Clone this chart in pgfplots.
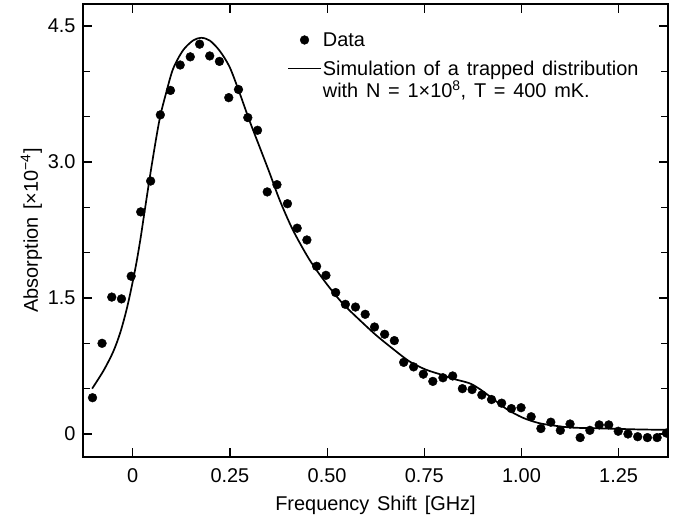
\documentclass[border=0pt]{standalone}
\usepackage{pgfplots}
\pgfplotsset{compat=1.18}
\usepackage{fontspec}
\setmainfont{Liberation Sans}[WordSpace=1.4]
\renewcommand{\arraystretch}{0.78}
\pgfplotsset{
  dataleg/.style={legend image code/.code={\draw[##1] plot coordinates {(16.5bp,0bp)};}},
  lineleg/.style={legend image code/.code={\draw[##1] (0bp,0bp) -- (33bp,0bp);}},
}
\begin{document}
\begin{tikzpicture}[font=\fontsize{20}{24}\selectfont]
\begin{axis}[
  scale only axis, width=585bp, height=453bp,
  xmin=-0.128, xmax=1.377, ymin=-0.254, ymax=4.743,
  xtick={0,0.25,0.5,0.75,1,1.25},
  xticklabels={0,0.25,0.50,0.75,1.00,1.25},
  ytick={0,1.5,3,4.5},
  yticklabels={0,1.5,3.0,4.5},
  minor y tick num=2,
  tick align=inside,
  major tick length=9bp, minor tick length=7bp,
  axis line style={line width=1.6bp},
  every tick/.style={line width=1.2bp, black},
  /pgf/number format/assume math mode=true,
  xticklabel style={yshift=-8bp},
  yticklabel style={xshift=-4bp},
  xlabel={Frequency Shift [GHz]},
  xlabel style={yshift=-7bp},
  ylabel={Absorption [×10\textsuperscript{−4}]},
  ylabel shift=-1bp,
  clip marker paths=true,
  legend cell align=left,
  legend style={draw=none, fill=none, at={(axis description cs:0.3487,0.94)}, anchor=north west,
    inner sep=0pt, column sep=0pt, row sep=11bp, nodes={inner sep=1bp}},
]
\addplot[only marks, mark=*, mark size=4.4bp, black, dataleg]
 coordinates {
(-0.1035,0.40) (-0.079,1.00) (-0.054,1.51) (-0.029,1.49) (-0.004,1.74) (0.0205,2.45) (0.046,2.79) (0.071,3.52) (0.097,3.79) (0.122,4.07) (0.148,4.16) (0.172,4.30) (0.198,4.17) (0.223,4.11) (0.247,3.71) (0.272,3.80) (0.296,3.49) (0.321,3.35) (0.346,2.67) (0.371,2.75) (0.398,2.54) (0.423,2.27) (0.448,2.14) (0.473,1.85) (0.497,1.75) (0.522,1.56) (0.547,1.43) (0.573,1.40) (0.598,1.32) (0.622,1.18) (0.648,1.10) (0.673,1.03) (0.697,0.79) (0.7225,0.74) (0.7475,0.66) (0.772,0.58) (0.798,0.62) (0.823,0.64) (0.848,0.50) (0.873,0.49) (0.898,0.43) (0.923,0.38) (0.949,0.34) (0.974,0.28) (0.999,0.29) (1.025,0.19) (1.050,0.06) (1.0755,0.13) (1.100,0.04) (1.125,0.11) (1.151,-0.04) (1.176,0.04) (1.200,0.10) (1.2245,0.10) (1.249,0.03) (1.274,0.00) (1.299,-0.03) (1.324,-0.04) (1.349,-0.04) (1.373,0.01)
};
\addlegendentry{Data}
\addplot[black, line width=1.7bp, smooth, lineleg]
 coordinates {
(-0.1045,0.50) (-0.075,0.70) (-0.050,0.91) (-0.032,1.12) (-0.016,1.37) (-0.003,1.62) (0.0095,1.89) (0.0205,2.17) (0.031,2.47) (0.049,2.97) (0.069,3.47) (0.087,3.78) (0.104,4.03) (0.129,4.23) (0.155,4.34) (0.176,4.37) (0.198,4.34) (0.223,4.23) (0.249,4.05) (0.275,3.76) (0.300,3.46) (0.326,3.17) (0.352,2.88) (0.378,2.58) (0.412,2.25) (0.455,1.92) (0.498,1.66) (0.540,1.44) (0.583,1.26) (0.626,1.09) (0.669,0.94) (0.712,0.80) (0.754,0.71) (0.797,0.65) (0.823,0.61) (0.866,0.56) (0.891,0.50) (0.917,0.42) (0.960,0.28) (1.003,0.18) (1.045,0.12) (1.088,0.09) (1.131,0.07) (1.217,0.06) (1.302,0.05) (1.38,0.045)
};
\addlegendentry{\begin{tabular}[t]{@{}l@{}}Simulation of a trapped distribution\\with N = 1×10\textsuperscript{8}, T = 400 mK.\end{tabular}}
\coordinate (ll) at (rel axis cs:0,0);
\coordinate (ur) at (rel axis cs:1,1);
\end{axis}
\pgfresetboundingbox
\path[use as bounding box] ([xshift=-83bp,yshift=-64bp]ll) rectangle ([xshift=11bp,yshift=4bp]ur);
\end{tikzpicture}
\end{document}
